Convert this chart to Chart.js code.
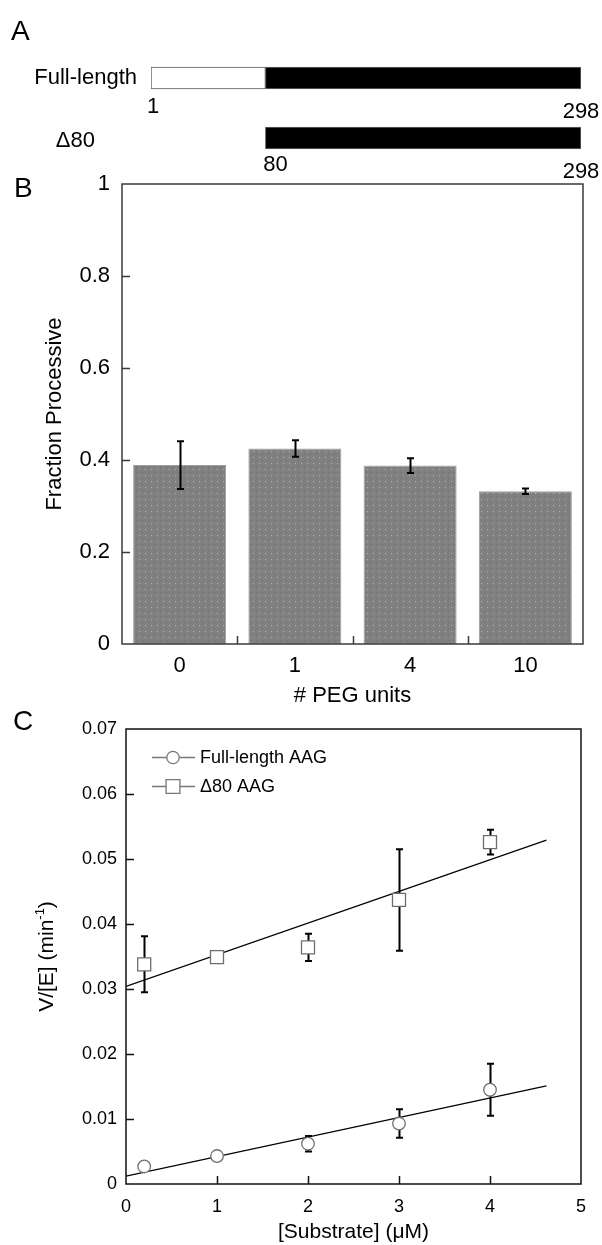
<!DOCTYPE html>
<html>
<head>
<meta charset="utf-8">
<script src="https://cdn.jsdelivr.net/npm/chart.js@4.4.1/dist/chart.umd.min.js"></script>
<style>
  html, body { margin: 0; padding: 0; background: #fff; }
  body { width: 602px; height: 1245px; position: relative; overflow: hidden; }
  canvas { position: absolute; left: 0; }
  #panelA { top: 0; }
  #panelB { top: 168px; }
  #panelC { top: 700px; }
</style>
</head>
<body>
<canvas id="panelA" width="602" height="190"></canvas>
<canvas id="panelB" width="602" height="546"></canvas>
<canvas id="panelC" width="602" height="545"></canvas>
<script>
// ---- Panel A: protein constructs (residue spans) ----
const constructNames = ['Full-length', 'Δ80'];
const nTermSpan = [[1, 80], null];
const coreSpan = [[80, 298], [80, 298]];

// ---- Panel B: processivity vs PEG linker length ----
const pegUnits = ['0', '1', '4', '10'];
const fractionProcessive = [0.389, 0.425, 0.388, 0.332];
const fractionErr = [0.052, 0.018, 0.016, 0.006];

// ---- Panel C: rate vs substrate concentration ----
const substrateConc = [0.2, 1, 2, 3, 4];
const fullLengthRate = [0.0027, 0.0043, 0.0062, 0.0093, 0.0145];
const fullLengthErr = [0.0003, 0.0003, 0.0012, 0.0022, 0.0040];
const delta80Rate = [0.0338, 0.0349, 0.0364, 0.0437, 0.0526];
const delta80Err = [0.0043, 0.0009, 0.0021, 0.0078, 0.0019];
const fitX = [0, 4.62];
const fullLengthFitY = [0.0012, 0.0151];
const delta80FitY = [0.0304, 0.0529];

const FONT = "'Liberation Sans', Arial, Helvetica, sans-serif";
Chart.defaults.font.family = FONT;
Chart.defaults.color = '#000';

const baseOptions = {
  responsive: false,
  animation: false,
  events: [],
};
const noLegend = { legend: { display: false }, tooltip: { enabled: false } };

// fixed axis box sizes so the plot frames land where they should
function fixedBox(prop, size) {
  return function (s) {
    s[prop] = size;
    s.paddingTop = 0; s.paddingBottom = 0; s.paddingLeft = 0; s.paddingRight = 0;
  };
}

function panelLetter(ctx, letter, x, y) {
  ctx.save();
  ctx.font = `28px ${FONT}`;
  ctx.fillStyle = '#000';
  ctx.textAlign = 'left';
  ctx.textBaseline = 'alphabetic';
  ctx.fillText(letter, x, y);
  ctx.restore();
}

// ===================== Panel A =====================
const schematicLabels = {
  id: 'schematicLabels',
  afterDraw(chart) {
    const { ctx, scales: { x, y } } = chart;
    const yFull = y.getPixelForValue(0);
    const yDel = y.getPixelForValue(1);
    const left = x.getPixelForValue(nTermSpan[0][0]);
    ctx.save();
    ctx.font = `22px ${FONT}`;
    ctx.fillStyle = '#000';
    ctx.textBaseline = 'middle';
    ctx.textAlign = 'right';
    ctx.fillText(constructNames[0], left - 14, yFull);
    ctx.fillText(constructNames[1], left - 56, yDel + 3);
    ctx.textAlign = 'center';
    ctx.fillText(String(nTermSpan[0][0]), x.getPixelForValue(nTermSpan[0][0]) + 2, yFull + 29);
    ctx.fillText(String(coreSpan[0][1]), x.getPixelForValue(coreSpan[0][1]), yFull + 34);
    ctx.fillText(String(coreSpan[1][0]), x.getPixelForValue(coreSpan[1][0]) + 10, yDel + 27);
    ctx.fillText(String(coreSpan[1][1]), x.getPixelForValue(coreSpan[1][1]), yDel + 34);
    ctx.restore();
    panelLetter(ctx, 'A', 11, 40);
  }
};

new Chart(document.getElementById('panelA'), {
  type: 'bar',
  data: {
    labels: constructNames,
    datasets: [
      { data: nTermSpan, backgroundColor: '#ffffff', borderColor: '#5e5e5e', borderWidth: 1,
        borderSkipped: false, grouped: false, barThickness: 22 },
      { data: coreSpan, backgroundColor: '#000000', borderColor: '#6a6a6a', borderWidth: 1,
        borderSkipped: false, grouped: false, barThickness: 22 }
    ]
  },
  options: {
    ...baseOptions,
    indexAxis: 'y',
    layout: { padding: { left: 151, right: 21, top: 48, bottom: 22 } },
    scales: {
      x: { type: 'linear', min: 1, max: 298, display: false, stacked: false },
      y: { display: false }
    },
    plugins: noLegend
  },
  plugins: [schematicLabels]
});

// ===================== Panel B =====================
function stippleFill() {
  const c = document.createElement('canvas');
  c.width = 6; c.height = 6;
  const g = c.getContext('2d');
  g.fillStyle = '#808080';
  g.fillRect(0, 0, 6, 6);
  g.fillStyle = '#b2b2b2';
  g.fillRect(1, 1, 1, 1);
  g.fillStyle = '#6c6c6c';
  g.fillRect(4, 4, 1, 1);
  return g.createPattern(c, 'repeat');
}

const barFrame = {
  id: 'barFrame',
  afterDatasetsDraw(chart) {
    const { ctx, scales: { y } } = chart;
    const meta = chart.getDatasetMeta(0);
    ctx.save();
    ctx.strokeStyle = '#000';
    ctx.lineWidth = 2;
    fractionProcessive.forEach((v, i) => {
      const px = Math.round(meta.data[i].x) + 0.5;
      const top = y.getPixelForValue(v + fractionErr[i]);
      const bot = y.getPixelForValue(v - fractionErr[i]);
      ctx.beginPath();
      ctx.moveTo(px, top); ctx.lineTo(px, bot);
      ctx.moveTo(px - 3.5, top); ctx.lineTo(px + 3.5, top);
      ctx.moveTo(px - 3.5, bot); ctx.lineTo(px + 3.5, bot);
      ctx.stroke();
    });
    ctx.restore();
  },
  afterDraw(chart) {
    const { ctx, chartArea: a, scales: { x, y } } = chart;
    ctx.save();
    ctx.strokeStyle = '#3a3a3a';
    ctx.lineWidth = 1.5;
    ctx.strokeRect(a.left, a.top, a.right - a.left, a.bottom - a.top);
    ctx.beginPath();
    y.ticks.forEach(t => {
      if (t.value <= y.min || t.value >= y.max) return;
      const py = Math.round(y.getPixelForValue(t.value)) + 0.5;
      ctx.moveTo(a.left, py); ctx.lineTo(a.left + 8, py);
    });
    for (let i = 1; i < pegUnits.length; i++) {
      const px = Math.round((x.getPixelForValue(i - 1) + x.getPixelForValue(i)) / 2) + 0.5;
      ctx.moveTo(px, a.bottom); ctx.lineTo(px, a.bottom - 8);
    }
    ctx.stroke();
    ctx.restore();
    panelLetter(ctx, 'B', 14, 29);
  }
};

new Chart(document.getElementById('panelB'), {
  type: 'bar',
  data: {
    labels: pegUnits,
    datasets: [{
      data: fractionProcessive,
      backgroundColor: stippleFill(),
      borderColor: '#a0a0a0',
      borderWidth: 1,
      borderSkipped: false,
      categoryPercentage: 1,
      barPercentage: 0.807
    }]
  },
  options: {
    ...baseOptions,
    layout: { padding: { left: 0, right: 19, top: 16, bottom: 0 } },
    scales: {
      x: {
        grid: { display: false, drawTicks: false },
        border: { display: false },
        ticks: { font: { size: 22 }, padding: 9, color: '#000' },
        title: { display: true, text: '# PEG units', font: { size: 22 }, padding: { top: 0, bottom: 5 }, color: '#000' },
        afterFit: fixedBox('height', 70)
      },
      y: {
        min: 0, max: 1,
        grid: { display: false, drawTicks: false },
        border: { display: false },
        ticks: {
          stepSize: 0.2, font: { size: 22 }, padding: 12, color: '#000',
          callback: v => v === 0 ? '0' : String(+v.toFixed(1))
        },
        title: { display: true, text: 'Fraction Processive', font: { size: 22 }, padding: { top: 42, bottom: 0 }, color: '#000' },
        afterFit: fixedBox('width', 122)
      }
    },
    plugins: noLegend
  },
  plugins: [barFrame]
});

// ===================== Panel C =====================
const seriesStyle = {
  full: { label: 'Full-length AAG', pointStyle: 'circle', radius: 6.3 },
  delta: { label: 'Δ80 AAG', pointStyle: 'rect', radius: 9.2 }
};

function errorBars(ctx, x, y, xs, ys, errs) {
  ctx.beginPath();
  xs.forEach((xv, i) => {
    const px = Math.round(x.getPixelForValue(xv)) + 0.5;
    const top = y.getPixelForValue(ys[i] + errs[i]);
    const bot = y.getPixelForValue(ys[i] - errs[i]);
    ctx.moveTo(px, top); ctx.lineTo(px, bot);
    ctx.moveTo(px - 3.5, top); ctx.lineTo(px + 3.5, top);
    ctx.moveTo(px - 3.5, bot); ctx.lineTo(px + 3.5, bot);
  });
  ctx.stroke();
}

function marker(ctx, style, cx, cy, r) {
  ctx.beginPath();
  if (style === 'rect') {
    const h = r * Math.SQRT1_2;
    ctx.rect(cx - h, cy - h, 2 * h, 2 * h);
  } else {
    ctx.arc(cx, cy, r, 0, Math.PI * 2);
  }
  ctx.fillStyle = '#fff';
  ctx.fill();
  ctx.stroke();
}

const kineticsFrame = {
  id: 'kineticsFrame',
  beforeDatasetsDraw(chart) {
    const { ctx, scales: { x, y } } = chart;
    ctx.save();
    ctx.strokeStyle = '#000';
    ctx.lineWidth = 2;
    errorBars(ctx, x, y, substrateConc, delta80Rate, delta80Err);
    errorBars(ctx, x, y, substrateConc, fullLengthRate, fullLengthErr);
    ctx.restore();
  },
  afterDraw(chart) {
    const { ctx, chartArea: a, scales: { x, y } } = chart;
    ctx.save();
    ctx.strokeStyle = '#111';
    ctx.lineWidth = 1.5;
    ctx.strokeRect(a.left, a.top, a.right - a.left, a.bottom - a.top);
    ctx.beginPath();
    y.ticks.forEach(t => {
      if (t.value <= y.min + 1e-9 || t.value >= y.max - 1e-9) return;
      const py = Math.round(y.getPixelForValue(t.value)) + 0.5;
      ctx.moveTo(a.left, py); ctx.lineTo(a.left + 8, py);
    });
    x.ticks.forEach(t => {
      if (t.value <= x.min || t.value >= x.max) return;
      const px = Math.round(x.getPixelForValue(t.value)) + 0.5;
      ctx.moveTo(px, a.bottom); ctx.lineTo(px, a.bottom - 8);
    });
    ctx.stroke();

    // legend
    const rows = [seriesStyle.full, seriesStyle.delta];
    ctx.font = `18px ${FONT}`;
    ctx.textBaseline = 'middle';
    ctx.textAlign = 'left';
    rows.forEach((s, i) => {
      const ly = a.top + 28.5 + i * 29;
      const lx = a.left + 26;
      ctx.strokeStyle = '#777';
      ctx.lineWidth = 1.3;
      ctx.beginPath();
      ctx.moveTo(lx, ly); ctx.lineTo(lx + 43, ly);
      ctx.stroke();
      marker(ctx, s.pointStyle, lx + 21, ly, s.pointStyle === 'rect' ? 9.8 : 6.2);
      ctx.fillStyle = '#000';
      ctx.fillText(s.label, lx + 48, ly + 1);
    });

    // y-axis title with superscript
    ctx.translate(47, (a.top + a.bottom) / 2);
    ctx.rotate(-Math.PI / 2);
    const mainFont = `21px ${FONT}`, supFont = `13px ${FONT}`;
    const p1 = 'V/[E] (min', p2 = '-1', p3 = ')';
    ctx.font = mainFont; const w1 = ctx.measureText(p1).width, w3 = ctx.measureText(p3).width;
    ctx.font = supFont; const w2 = ctx.measureText(p2).width;
    let sx = -(w1 + w2 + w3) / 2;
    ctx.fillStyle = '#000';
    ctx.font = mainFont; ctx.fillText(p1, sx, 0); sx += w1;
    ctx.font = supFont; ctx.fillText(p2, sx, -7); sx += w2;
    ctx.font = mainFont; ctx.fillText(p3, sx, 0);
    ctx.restore();
    panelLetter(ctx, 'C', 13, 30);
  }
};

const toPoints = (xs, ys) => xs.map((v, i) => ({ x: v, y: ys[i] }));

new Chart(document.getElementById('panelC'), {
  type: 'scatter',
  data: {
    datasets: [
      { label: seriesStyle.full.label, data: toPoints(substrateConc, fullLengthRate), order: 0,
        pointStyle: 'circle', pointRadius: seriesStyle.full.radius, pointBackgroundColor: '#fff',
        pointBorderColor: '#6e6e6e', pointBorderWidth: 1.3 },
      { label: seriesStyle.delta.label, data: toPoints(substrateConc, delta80Rate), order: 0,
        pointStyle: 'rect', pointRadius: seriesStyle.delta.radius, pointBackgroundColor: '#fff',
        pointBorderColor: '#6e6e6e', pointBorderWidth: 1.3 },
      { data: toPoints(fitX, fullLengthFitY), order: 1, showLine: true, pointRadius: 0,
        borderColor: '#000', borderWidth: 1.2 },
      { data: toPoints(fitX, delta80FitY), order: 1, showLine: true, pointRadius: 0,
        borderColor: '#000', borderWidth: 1.2 }
    ]
  },
  options: {
    ...baseOptions,
    layout: { padding: { left: 0, right: 21, top: 29, bottom: 0 } },
    scales: {
      x: {
        type: 'linear', min: 0, max: 5,
        grid: { display: false, drawTicks: false },
        border: { display: false },
        ticks: { stepSize: 1, font: { size: 18 }, padding: 12, color: '#000' },
        title: { display: true, text: '[Substrate] (μM)', font: { size: 21 }, padding: { top: 0, bottom: 0 }, color: '#000' },
        afterFit: fixedBox('height', 61)
      },
      y: {
        type: 'linear', min: 0, max: 0.07,
        grid: { display: false, drawTicks: false },
        border: { display: false },
        ticks: { stepSize: 0.01, font: { size: 18 }, padding: 9, color: '#000',
          callback: v => Math.abs(v) < 1e-9 ? '0' : v.toFixed(2) },
        afterFit: fixedBox('width', 126)
      }
    },
    plugins: noLegend
  },
  plugins: [kineticsFrame]
});
</script>
</body>
</html>
